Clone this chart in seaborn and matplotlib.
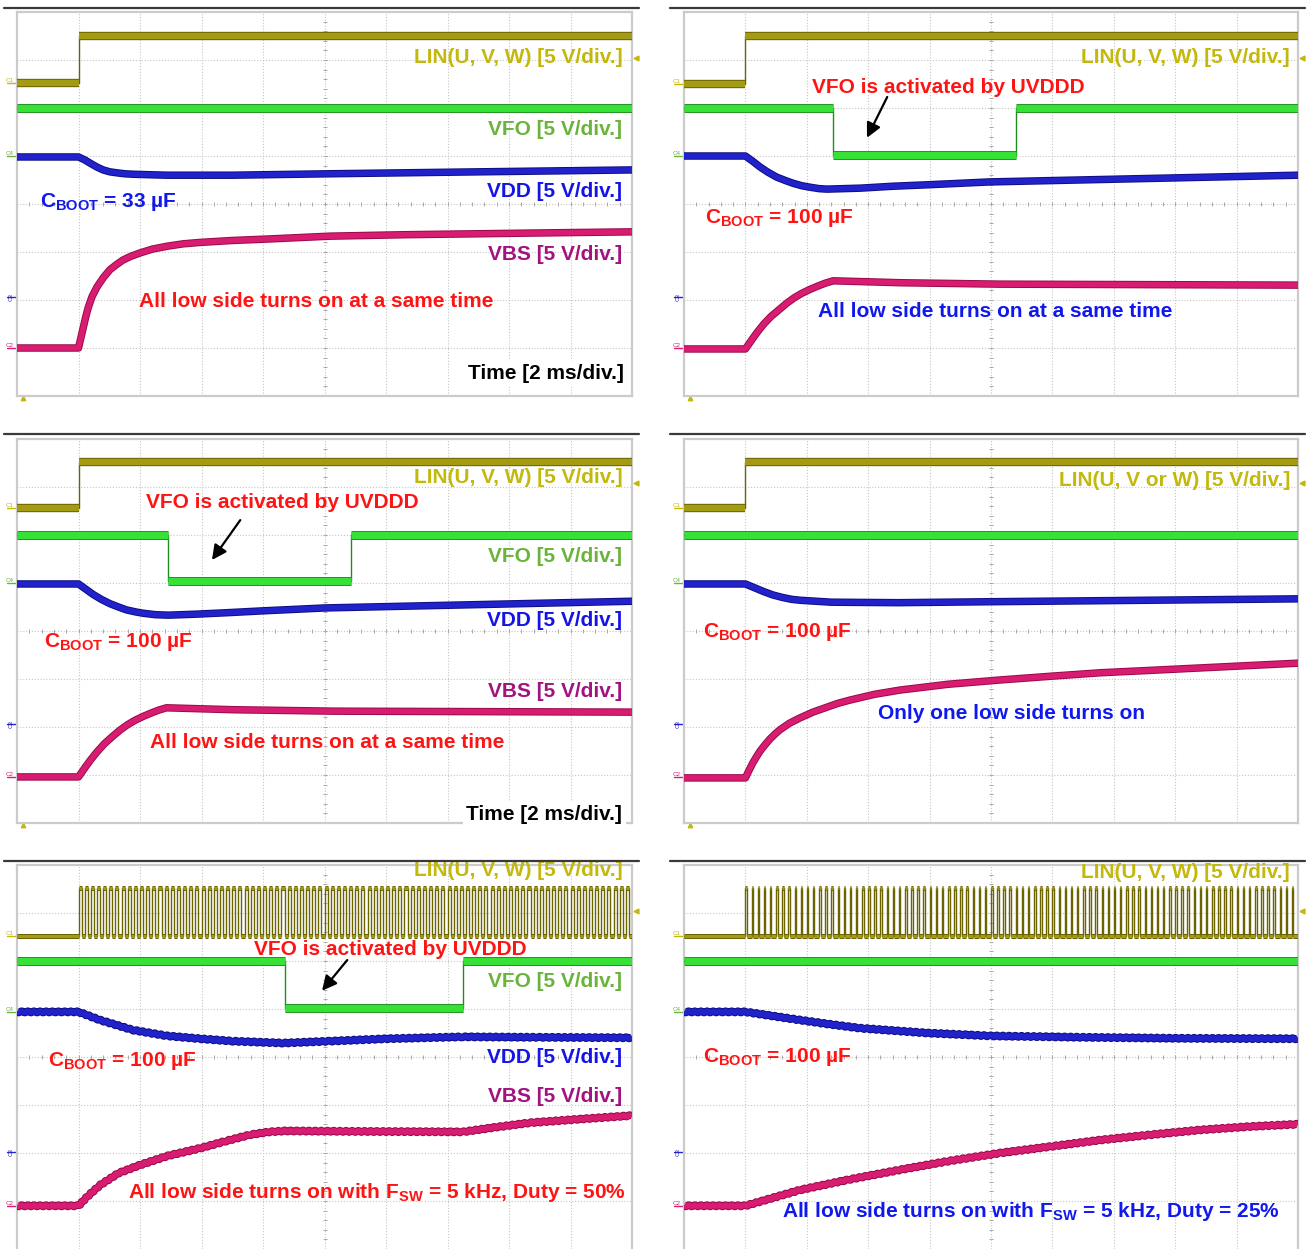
import numpy as np
import pandas as pd
import matplotlib
matplotlib.use("Agg")
import matplotlib.pyplot as plt
import matplotlib.patheffects as pe
from matplotlib.lines import Line2D
import seaborn as sns

sns.set_style("white")
plt.rcParams["font.family"] = ["Liberation Sans", "DejaVu Sans"]
plt.rcParams["font.weight"] = "bold"
plt.rcParams["mathtext.fontset"] = "custom"
for key in ("rm", "it", "bf", "sf"):
    plt.rcParams["mathtext." + key] = "Liberation Sans:bold"

# ---------------------------------------------------------------- scope setup
T_DIV_MS = 2.0          # time base, ms per division
FSW_KHZ = 5.0           # low-side switching frequency in the PWM captures
N_XDIV, N_YDIV = 10, 8

# ---------------------------------------------------------------- colours
LIN_C, LIN_E, LIN_T = "#a39b12", "#6a6300", "#c3b80c"
VFO_C, VFO_E, VFO_T = "#36e236", "#1a8f1a", "#6ab43c"
VDD_C, VDD_E, VDD_T = "#2222cc", "#0e0e80", "#1414e6"
VBS_C, VBS_E, VBS_T = "#d81c72", "#990a48", "#a3137f"
RED = "#ff1414"
BLUE = "#1018ee"

# ---------------------------------------------------------------- traces (time in div, level in div)
# (a) C_BOOT = 33 uF, all low sides on together
a_lin_t = [0.0, 1.0, 1.0, 10.0]
a_lin_v = [6.53, 6.53, 7.51, 7.51]
a_vfo_t = [0.0, 10.0]
a_vfo_v = [6.0, 6.0]
a_vdd_t = [0.0, 1.0, 1.10, 1.19, 1.30, 1.40, 1.51, 1.62, 1.75, 1.89, 2.15, 2.44, 3.0, 3.5, 5.1, 7.5, 10.0]
a_vdd_v = [4.98, 4.98, 4.92, 4.85, 4.77, 4.71, 4.67, 4.65, 4.63, 4.62, 4.61, 4.60, 4.60, 4.60, 4.63, 4.67, 4.71]
a_vbs_t = [0.0, 1.0, 1.04, 1.08, 1.12, 1.16, 1.22, 1.30, 1.40, 1.51, 1.62, 1.72, 1.85, 2.0,
           2.2, 2.44, 2.7, 2.98, 3.5, 4.07, 5.09, 6.3, 7.5, 8.7, 10.0]
a_vbs_v = [1.0, 1.0, 1.22, 1.44, 1.66, 1.85, 2.07, 2.27, 2.46, 2.63, 2.74, 2.83, 2.91, 2.98,
           3.06, 3.12, 3.17, 3.20, 3.24, 3.27, 3.33, 3.36, 3.38, 3.40, 3.42]

# (b) C_BOOT = 100 uF, all low sides on together, UVDDD fault
b_lin_t = [0.0, 0.99, 0.99, 10.0]
b_lin_v = [6.50, 6.50, 7.49, 7.49]
b_vfo_t = [0.0, 2.43, 2.43, 5.41, 5.41, 10.0]
b_vfo_v = [6.0, 6.0, 5.02, 5.02, 6.0, 6.0]
b_vdd_t = [0.0, 1.0, 1.12, 1.24, 1.37, 1.51, 1.65, 1.78, 1.92, 2.05, 2.20, 2.33, 2.6, 2.87, 3.4,
           3.96, 4.98, 7.5, 10.0]
b_vdd_v = [5.0, 5.0, 4.89, 4.77, 4.66, 4.56, 4.49, 4.43, 4.38, 4.35, 4.32, 4.31, 4.32, 4.33, 4.37,
           4.40, 4.46, 4.53, 4.60]
b_vbs_t = [0.0, 1.0, 1.06, 1.12, 1.20, 1.30, 1.42, 1.55, 1.68, 1.80, 1.92, 2.05, 2.18, 2.30, 2.43,
           3.52, 5.15, 10.0]
b_vbs_v = [0.98, 0.98, 1.09, 1.20, 1.34, 1.50, 1.66, 1.80, 1.94, 2.05, 2.14, 2.22, 2.29, 2.35, 2.40,
           2.36, 2.33, 2.31]

# (c) C_BOOT = 100 uF, all low sides on together, UVDDD fault
c_lin_t = [0.0, 1.0, 1.0, 10.0]
c_lin_v = [6.56, 6.56, 7.52, 7.52]
c_vfo_t = [0.0, 2.46, 2.46, 5.43, 5.43, 10.0]
c_vfo_v = [6.0, 6.0, 5.04, 5.04, 6.0, 6.0]
c_vdd_t = [0.0, 1.0, 1.12, 1.24, 1.37, 1.51, 1.65, 1.78, 1.92, 2.05, 2.25, 2.46, 2.9, 3.4, 4.0,
           5.0, 7.5, 10.0]
c_vdd_v = [4.98, 4.98, 4.87, 4.76, 4.66, 4.57, 4.50, 4.44, 4.40, 4.37, 4.34, 4.33, 4.35, 4.38, 4.42,
           4.48, 4.55, 4.62]
c_vbs_t = [0.0, 1.0, 1.06, 1.12, 1.20, 1.30, 1.42, 1.55, 1.68, 1.80, 1.92, 2.05, 2.18, 2.30, 2.43,
           3.52, 5.15, 10.0]
c_vbs_v = [0.96, 0.96, 1.07, 1.18, 1.32, 1.48, 1.65, 1.80, 1.94, 2.05, 2.14, 2.22, 2.29, 2.35, 2.40,
           2.36, 2.33, 2.31]

# (d) C_BOOT = 100 uF, a single low side on
d_lin_t = [0.0, 1.0, 1.0, 10.0]
d_lin_v = [6.56, 6.56, 7.52, 7.52]
d_vfo_t = [0.0, 10.0]
d_vfo_v = [6.0, 6.0]
d_vdd_t = [0.0, 1.0, 1.15, 1.3, 1.45, 1.6, 1.75, 1.9, 2.15, 2.4, 3.5, 5.0, 7.5, 10.0]
d_vdd_v = [4.98, 4.98, 4.90, 4.82, 4.75, 4.70, 4.66, 4.64, 4.62, 4.60, 4.59, 4.61, 4.64, 4.67]
d_vbs_t = [0.0, 1.0, 1.06, 1.12, 1.18, 1.24, 1.32, 1.40, 1.48, 1.56, 1.72, 1.89, 2.10, 2.30, 2.50,
           2.70, 3.10, 3.52, 4.30, 5.15, 6.0, 6.78, 7.6, 8.40, 9.2, 10.0]
d_vbs_v = [0.94, 0.94, 1.10, 1.25, 1.38, 1.50, 1.63, 1.75, 1.85, 1.94, 2.08, 2.19, 2.31, 2.40, 2.49,
           2.56, 2.68, 2.77, 2.89, 2.98, 3.06, 3.13, 3.18, 3.23, 3.28, 3.33]

# (e) C_BOOT = 100 uF, PWM on all low sides, duty 50 %
e_lin_on, e_lin_lo, e_lin_hi, e_duty = 1.0, 6.52, 7.52, 0.50
e_vfo_t = [0.0, 4.36, 4.36, 7.25, 7.25, 10.0]
e_vfo_v = [6.0, 6.0, 5.02, 5.02, 6.0, 6.0]
e_vdd_t = [0.0, 1.0, 1.35, 1.89, 2.44, 2.98, 3.51, 4.33, 5.09, 6.0, 7.25, 8.5, 10.0]
e_vdd_v = [4.94, 4.94, 4.77, 4.56, 4.44, 4.38, 4.33, 4.29, 4.33, 4.38, 4.42, 4.41, 4.40]
e_vbs_t = [0.0, 1.0, 1.15, 1.35, 1.65, 2.0, 2.45, 2.98, 3.40, 3.79, 4.10, 4.36, 5.5, 7.25, 7.8,
           8.34, 9.2, 10.0]
e_vbs_v = [0.90, 0.90, 1.10, 1.33, 1.58, 1.75, 1.94, 2.10, 2.25, 2.38, 2.44, 2.46, 2.45, 2.44, 2.54,
           2.63, 2.71, 2.78]

# (f) C_BOOT = 100 uF, PWM on all low sides, duty 25 %
f_lin_on, f_lin_lo, f_lin_hi, f_duty = 1.0, 6.52, 7.52, 0.25
f_vfo_t = [0.0, 10.0]
f_vfo_v = [6.0, 6.0]
f_vdd_t = [0.0, 1.0, 1.78, 2.33, 2.87, 3.96, 4.98, 6.5, 8.0, 10.0]
f_vdd_v = [4.94, 4.94, 4.79, 4.69, 4.60, 4.50, 4.44, 4.41, 4.39, 4.38]
f_vbs_t = [0.0, 1.0, 1.89, 2.7, 3.52, 4.3, 5.15, 6.0, 6.78, 7.6, 8.40, 9.2, 10.0]
f_vbs_v = [0.90, 0.90, 1.23, 1.45, 1.65, 1.83, 2.00, 2.14, 2.27, 2.38, 2.48, 2.55, 2.60]

# ---------------------------------------------------------------- figure
W, H = 1309, 1249
fig = plt.figure(figsize=(W / 100, H / 100), dpi=100)
fig.patch.set_facecolor("white")

PERIOD_DIV = 1.0 / FSW_KHZ / T_DIV_MS          # one PWM period in divisions
RIPPLE_PX = PERIOD_DIV * 615 / N_XDIV            # same period in screen pixels


def pwm_trace(t_on, lo, hi, duty):
    """Gate signal: idle low, then square wave at FSW with the given duty."""
    n = int(round((N_XDIV - t_on) / PERIOD_DIV))
    t, v = [0.0], [lo]
    for k in range(n):
        r = t_on + k * PERIOD_DIV
        f = r + duty * PERIOD_DIV
        t += [r, r, f, f]
        v += [lo, hi, hi, lo]
    t.append(float(N_XDIV))
    v.append(lo)
    return t, v


def runs(t):
    seg, s = [], 0
    for i in range(len(t)):
        if i > 0 and t[i] == t[i - 1]:
            s += 1
        seg.append(s)
    return seg


def draw_trace(ax, t, v, color, edge, lw, ripple=False):
    df = pd.DataFrame({"t": t, "v": v, "seg": runs(t)})
    # fast edges stay thin
    sns.lineplot(data=df, x="t", y="v", ax=ax, color=edge, linewidth=1.0,
                 estimator=None, sort=False, zorder=3)
    n0 = len(ax.lines)
    sns.lineplot(data=df, x="t", y="v", units="seg", ax=ax, color=color,
                 linewidth=lw, estimator=None, sort=False,
                 solid_capstyle="butt", solid_joinstyle="round", zorder=4)
    for ln in ax.lines[n0:]:
        ln.set_path_effects([pe.Stroke(linewidth=lw + 1.4, foreground=edge), pe.Normal()])
        if ripple:
            ln.set_sketch_params(0.9, RIPPLE_PX, 1.0)


def scope_axes(box):
    l, t, r, b = box
    ax = fig.add_axes([l / W, 1 - b / H, (r - l) / W, (b - t) / H])
    ax.set_facecolor("white")
    for i in range(1, N_XDIV):
        ax.axvline(i, color="#c6c6c6", lw=0.8, ls=(0, (1, 1.6)), zorder=1)
    for j in range(1, N_YDIV):
        ax.axhline(j, color="#c6c6c6", lw=0.8, ls=(0, (1, 1.6)), zorder=1)
    mx = np.arange(0.2, N_XDIV, 0.2)
    my = np.arange(0.2, N_YDIV, 0.2)
    ax.plot(mx, np.full(len(mx), N_YDIV / 2), ls="none", marker="|", ms=3.5,
            mew=0.7, color="#a8a8a8", zorder=1)
    ax.plot(np.full(len(my), N_XDIV / 2), my, ls="none", marker="_", ms=3.5,
            mew=0.7, color="#a8a8a8", zorder=1)
    for s in ax.spines.values():
        s.set_color("#cbcbcb")
        s.set_linewidth(1.6)
    return ax


def finish(ax, c1, c4, c3, c2, trig):
    ax.set_xlim(0, N_XDIV)
    ax.set_ylim(0, N_YDIV)
    ax.set_xticks([])
    ax.set_yticks([])
    ax.set_xlabel("")
    ax.set_ylabel("")
    yt = ax.get_yaxis_transform()
    for name, lev, col, rot in (("C1", c1, LIN_T, 0), ("C4", c4, VFO_T, 0),
                                ("C3", c3, VDD_C, 90), ("C2", c2, VBS_C, 0)):
        ax.text(-0.006, lev, name, transform=yt, ha="right",
                va="bottom" if rot == 0 else "center", rotation=rot,
                fontsize=4.5, fontweight="normal", color=col, clip_on=False)
        ax.add_line(Line2D([-0.016, 0.0], [lev, lev], transform=yt, color=col,
                           lw=1.0, clip_on=False))
    ax.plot([1.006], [trig], marker="<", ms=3.5, color=LIN_T, transform=yt,
            clip_on=False)
    ax.plot([0.1], [-0.006], marker="^", ms=3.2, color=LIN_T,
            transform=ax.get_xaxis_transform(), clip_on=False)


def say(ax, t, v, s, color, ha="right", size=15, box=False):
    kw = {}
    if box:
        kw["bbox"] = dict(facecolor="white", edgecolor="none", pad=2.5)
    ax.text(t, v, s, ha=ha, va="center", color=color, fontsize=size,
            fontweight="bold", zorder=6, **kw)


def arrow(ax, tail, head):
    ax.annotate("", xy=head, xytext=tail, zorder=7,
                arrowprops=dict(arrowstyle="-|>", color="black", lw=1.6,
                                mutation_scale=22, shrinkA=0, shrinkB=0))


LIN_LBL = "LIN(U, V, W) [5 V/div.]"
VFO_LBL = "VFO [5 V/div.]"
VDD_LBL = "VDD [5 V/div.]"
VBS_LBL = "VBS [5 V/div.]"
TIME_LBL = "Time [2 ms/div.]"
FAULT_LBL = "VFO is activated by UVDDD"
SAME_LBL = "All low side turns on at a same time"

# ---- (a)
ax = scope_axes((17, 12, 632, 396))
draw_trace(ax, a_lin_t, a_lin_v, LIN_C, LIN_E, 4.6)
draw_trace(ax, a_vfo_t, a_vfo_v, VFO_C, VFO_E, 5.0)
draw_trace(ax, a_vdd_t, a_vdd_v, VDD_C, VDD_E, 4.0)
draw_trace(ax, a_vbs_t, a_vbs_v, VBS_C, VBS_E, 4.0)
say(ax, 9.85, 7.06, LIN_LBL, LIN_T)
say(ax, 9.84, 5.56, VFO_LBL, VFO_T)
say(ax, 9.84, 4.27, VDD_LBL, VDD_T)
say(ax, 0.37, 4.04, r"C$_{\mathrm{BOOT}}$ = 33 µF", BLUE, ha="left")
say(ax, 9.84, 2.94, VBS_LBL, VBS_T)
say(ax, 4.86, 1.96, SAME_LBL, RED, ha="center")
say(ax, 9.87, 0.46, TIME_LBL, "black", box=True)
finish(ax, 6.53, 5.0, 2.06, 1.0, 7.04)

# ---- (b)
ax = scope_axes((684, 12, 1298, 396))
draw_trace(ax, b_lin_t, b_lin_v, LIN_C, LIN_E, 4.6)
draw_trace(ax, b_vfo_t, b_vfo_v, VFO_C, VFO_E, 5.0)
draw_trace(ax, b_vdd_t, b_vdd_v, VDD_C, VDD_E, 4.0)
draw_trace(ax, b_vbs_t, b_vbs_v, VBS_C, VBS_E, 4.0)
say(ax, 9.87, 7.06, LIN_LBL, LIN_T)
say(ax, 4.30, 6.42, FAULT_LBL, RED, ha="center")
arrow(ax, (3.31, 6.23), (2.98, 5.38))
say(ax, 0.34, 3.71, r"C$_{\mathrm{BOOT}}$ = 100 µF", RED, ha="left")
say(ax, 5.07, 1.77, SAME_LBL, BLUE, ha="center")
finish(ax, 6.50, 5.0, 2.06, 1.0, 7.04)

# ---- (c)
ax = scope_axes((17, 439, 632, 823))
draw_trace(ax, c_lin_t, c_lin_v, LIN_C, LIN_E, 4.6)
draw_trace(ax, c_vfo_t, c_vfo_v, VFO_C, VFO_E, 5.0)
draw_trace(ax, c_vdd_t, c_vdd_v, VDD_C, VDD_E, 4.0)
draw_trace(ax, c_vbs_t, c_vbs_v, VBS_C, VBS_E, 4.0)
say(ax, 9.84, 7.19, LIN_LBL, LIN_T)
say(ax, 4.31, 6.67, FAULT_LBL, RED, ha="center")
arrow(ax, (3.63, 6.31), (3.17, 5.48))
say(ax, 9.84, 5.56, VFO_LBL, VFO_T)
say(ax, 9.84, 4.21, VDD_LBL, VDD_T)
say(ax, 0.44, 3.77, r"C$_{\mathrm{BOOT}}$ = 100 µF", RED, ha="left")
say(ax, 9.84, 2.75, VBS_LBL, VBS_T)
say(ax, 5.04, 1.67, SAME_LBL, RED, ha="center")
say(ax, 9.84, 0.17, TIME_LBL, "black", box=True)
finish(ax, 6.56, 5.0, 2.06, 0.96, 7.08)

# ---- (d)
ax = scope_axes((684, 439, 1298, 823))
draw_trace(ax, d_lin_t, d_lin_v, LIN_C, LIN_E, 4.6)
draw_trace(ax, d_vfo_t, d_vfo_v, VFO_C, VFO_E, 5.0)
draw_trace(ax, d_vdd_t, d_vdd_v, VDD_C, VDD_E, 4.0)
draw_trace(ax, d_vbs_t, d_vbs_v, VBS_C, VBS_E, 4.0)
say(ax, 9.87, 7.13, "LIN(U, V or W) [5 V/div.]", LIN_T)
say(ax, 0.31, 3.98, r"C$_{\mathrm{BOOT}}$ = 100 µF", RED, ha="left")
say(ax, 5.34, 2.29, "Only one low side turns on", BLUE, ha="center")
finish(ax, 6.56, 5.0, 2.06, 0.96, 7.08)

# ---- (e)
ax = scope_axes((17, 865, 632, 1249))
e_lin_t, e_lin_v = pwm_trace(e_lin_on, e_lin_lo, e_lin_hi, e_duty)
draw_trace(ax, e_lin_t, e_lin_v, LIN_C, LIN_E, 2.2)
draw_trace(ax, e_vfo_t, e_vfo_v, VFO_C, VFO_E, 5.0)
draw_trace(ax, e_vdd_t, e_vdd_v, VDD_C, VDD_E, 3.8, ripple=True)
draw_trace(ax, e_vbs_t, e_vbs_v, VBS_C, VBS_E, 3.8, ripple=True)
say(ax, 9.84, 7.88, LIN_LBL, LIN_T)
say(ax, 6.07, 6.23, FAULT_LBL, RED, ha="center")
arrow(ax, (5.37, 6.02), (4.96, 5.38))
say(ax, 9.84, 5.58, VFO_LBL, VFO_T)
say(ax, 0.50, 3.92, r"C$_{\mathrm{BOOT}}$ = 100 µF", RED, ha="left")
say(ax, 9.84, 3.98, VDD_LBL, VDD_T)
say(ax, 9.84, 3.17, VBS_LBL, VBS_T)
say(ax, 9.90, 1.17, r"All low side turns on with F$_{\mathrm{SW}}$ = 5 kHz, Duty = 50%", RED)
finish(ax, 6.52, 4.94, 2.02, 0.90, 7.04)
ax.spines["bottom"].set_visible(False)

# ---- (f)
ax = scope_axes((684, 865, 1298, 1249))
f_lin_t, f_lin_v = pwm_trace(f_lin_on, f_lin_lo, f_lin_hi, f_duty)
draw_trace(ax, f_lin_t, f_lin_v, LIN_C, LIN_E, 2.2)
draw_trace(ax, f_vfo_t, f_vfo_v, VFO_C, VFO_E, 5.0)
draw_trace(ax, f_vdd_t, f_vdd_v, VDD_C, VDD_E, 3.8, ripple=True)
draw_trace(ax, f_vbs_t, f_vbs_v, VBS_C, VBS_E, 3.8, ripple=True)
say(ax, 9.87, 7.85, LIN_LBL, LIN_T)
say(ax, 0.31, 4.00, r"C$_{\mathrm{BOOT}}$ = 100 µF", RED, ha="left")
say(ax, 9.71, 0.79, r"All low side turns on with F$_{\mathrm{SW}}$ = 5 kHz, Duty = 25%", BLUE)
finish(ax, 6.52, 4.94, 2.02, 0.90, 7.04)
ax.spines["bottom"].set_visible(False)

# separators above each row
for y in (8, 434, 861):
    fig.add_artist(Line2D([4 / W, 639 / W], [1 - y / H] * 2, color="#3a3a3a", lw=1.6))
    fig.add_artist(Line2D([670 / W, 1305 / W], [1 - y / H] * 2, color="#3a3a3a", lw=1.6))

fig.savefig("out.png", dpi=100, facecolor="white")
